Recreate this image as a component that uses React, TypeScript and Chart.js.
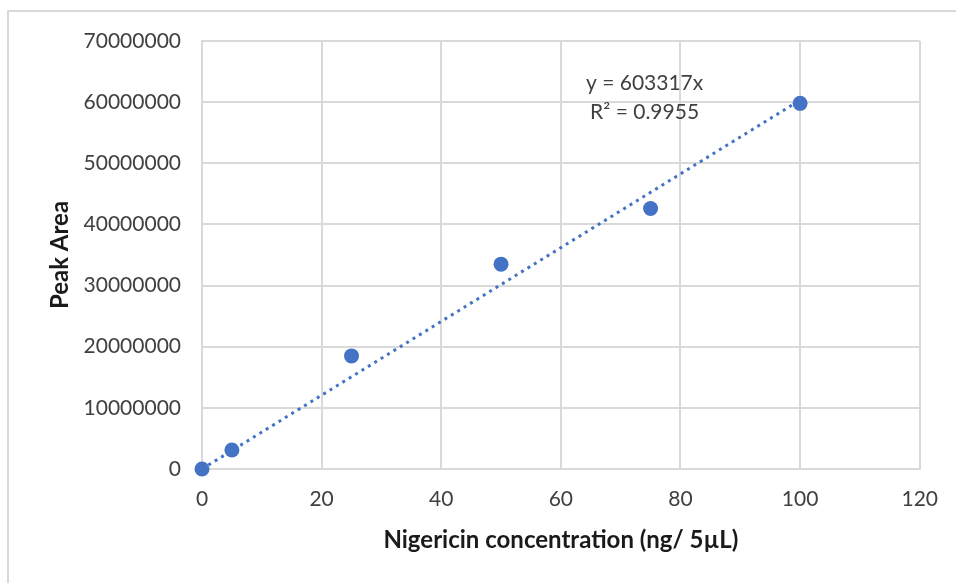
import React, { useEffect, useRef } from "react";
import { Chart, registerables } from "chart.js";

Chart.register(...registerables);

const concentrations = [0, 5, 25, 50, 75, 100];
const peakAreas = [0, 3100000, 18500000, 33500000, 42600000, 59800000];
const trendSlope = 603317;
const trendRange = [0, 100];
const xTicksMax = 120;
const yTicksMax = 70000000;
const equationLines = ["y = 603317x", "R\u00b2 = 0.9955"];
const equationAnchorX = 74;
const equationAnchorY = [63100000, 58400000];

const FONT = "Lato, 'Open Sans', sans-serif";

export default function App() {
  const ref = useRef<HTMLCanvasElement | null>(null);

  useEffect(() => {
    if (!ref.current) return;
    const annotationPlugin = {
      id: "equationText",
      afterDatasetsDraw(chart: any) {
        const ctx = chart.ctx;
        const xs = chart.scales.x;
        const ys = chart.scales.y;
        ctx.save();
        ctx.font = `21px ${FONT}`;
        ctx.fillStyle = "#404040";
        ctx.textAlign = "center";
        ctx.textBaseline = "middle";
        equationLines.forEach((t, i) => {
          ctx.fillText(t, xs.getPixelForValue(equationAnchorX), ys.getPixelForValue(equationAnchorY[i]));
        });
        ctx.restore();
      },
    };

    const chart = new Chart(ref.current, {
      type: "scatter",
      data: {
        datasets: [
          {
            label: "Peak Area",
            data: concentrations.map((x, i) => ({ x, y: peakAreas[i] })),
            backgroundColor: "#4472C4",
            borderColor: "#4472C4",
            pointRadius: 7.5,
            pointBorderWidth: 0,
            showLine: false,
            clip: false,
          } as any,
          {
            label: "Trend",
            type: "line",
            data: trendRange.map((x) => ({ x, y: trendSlope * x })),
            borderColor: "#4472C4",
            borderWidth: 3,
            borderDash: [3, 4.5],
            pointRadius: 0,
            fill: false,
            clip: false,
          } as any,
        ],
      },
      options: {
        responsive: false,
        animation: false,
        layout: { padding: { left: 0, top: 41, right: 36, bottom: 0 } },
        plugins: { legend: { display: false }, tooltip: { enabled: false } },
        scales: {
          x: {
            type: "linear",
            min: 0,
            max: xTicksMax,
            ticks: {
              stepSize: 20,
              padding: 18,
              color: "#404040",
              font: { family: FONT, size: 21 },
            },
            grid: { color: "#d9d9d9", lineWidth: 2, drawTicks: false },
            border: { color: "#d9d9d9", width: 2 },
            title: {
              display: true,
              text: "Nigericin concentration (ng/ 5\u00b5L)",
              color: "#1a1a1a",
              font: { family: FONT, size: 24, weight: "bold" },
              padding: { top: 0, bottom: 28 },
            },
            afterFit(scale: any) {
              scale.height = 583 - 469;
            },
          },
          y: {
            type: "linear",
            min: 0,
            max: yTicksMax,
            ticks: {
              stepSize: 10000000,
              padding: 21,
              color: "#404040",
              font: { family: FONT, size: 21 },
              callback: (v: any) => String(v),
            },
            grid: { color: "#d9d9d9", lineWidth: 2, drawTicks: false },
            border: { color: "#d9d9d9", width: 2 },
            title: {
              display: true,
              text: "Peak Area",
              color: "#1a1a1a",
              font: { family: FONT, size: 24, weight: "bold" },
              padding: { top: 46, bottom: 0 },
            },
            afterFit(scale: any) {
              scale.width = 202;
            },
          },
        },
      },
      plugins: [annotationPlugin],
    });
    return () => chart.destroy();
  }, []);

  return (
    <div
      style={{
        position: "fixed",
        left: 0,
        top: 0,
        width: 956,
        height: 583,
        overflow: "hidden",
        background: "#fff",
      }}
    >
      <div
        style={{
          position: "absolute",
          left: 7,
          top: 10,
          width: 2000,
          height: 2000,
          borderTop: "2px solid #d9d9d9",
          borderLeft: "2px solid #d9d9d9",
        }}
      />
      <canvas ref={ref} width={956} height={583} style={{ position: "absolute", left: 0, top: 0, display: "block" }} />
    </div>
  );
}
